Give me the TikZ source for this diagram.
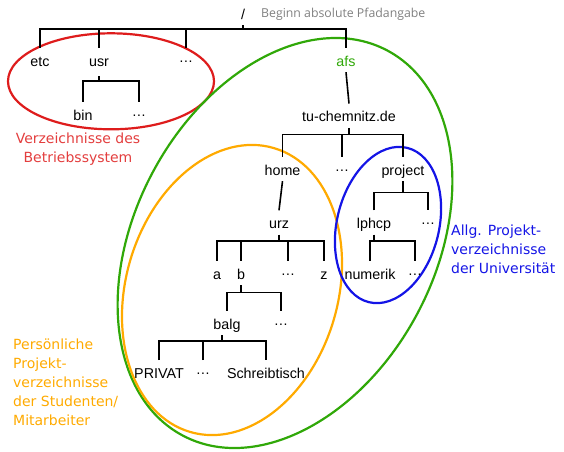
\documentclass[tikz,border=0pt]{standalone}
\usepackage{fontspec}
\setmainfont{Liberation Sans}
\newfontfamily\notefont{DejaVu Sans}
\newfontfamily\hintfont{Open Sans}
\usepackage{tikz}

\definecolor{sysred}{RGB}{222,28,28}
\definecolor{afsgreen}{RGB}{48,168,8}
\definecolor{uniblue}{RGB}{20,20,230}
\definecolor{homeorange}{RGB}{255,170,0}
\definecolor{hintgray}{RGB}{128,128,128}

\newcommand{\moredirs}{\raisebox{4pt}{…}}

\begin{document}
\begin{tikzpicture}[x=1pt,y=-1pt,
  dir/.style={inner sep=0pt,text height=18pt,text depth=6pt,font=\fontsize{14.3}{16}\selectfont},
  note/.style={inner sep=0pt,align=left,font=\notefont\fontsize{14}{18.8}\selectfont},
  tree/.style={line width=1.6pt},
  hull/.style={line width=2.2pt}]
  \useasboundingbox (0,0) rectangle (564,451);

  \draw[hull,sysred] (111,81.3) ellipse [x radius=103, y radius=48];
  \draw[hull,afsgreen,rotate around={-28:(285,243)}] (285,243) ellipse [x radius=150, y radius=218];
  \draw[hull,homeorange,rotate around={-16.5:(232,290)}] (232,290) ellipse [x radius=106, y radius=148];
  \draw[hull,uniblue,rotate around={-14:(388,225)}] (388,225) ellipse [x radius=51, y radius=79.5];

  \node[dir,anchor=base] (root) at (243,19) {/};
  \node[anchor=base west,inner sep=0pt,text=hintgray,font=\hintfont\fontsize{12.3}{14}\selectfont] (hint) at (261,17) {Beginn absolute Pfadangabe};

  \node[dir,anchor=base] (etc) at (40,66) {etc};
  \node[dir,anchor=base] (usr) at (99,66) {usr};
  \node[dir,anchor=base] (rdots) at (186,66) {\moredirs};
  \node[dir,anchor=base,text=afsgreen] (afs) at (346,66) {afs};

  \node[dir,anchor=base] (bin) at (83,120) {bin};
  \node[dir,anchor=base] (udots) at (139,120) {\moredirs};

  \node[dir,anchor=base] (tu) at (349,121.7) {tu-chemnitz.de};

  \node[dir,anchor=base] (home) at (282.5,175) {home};
  \node[dir,anchor=base] (tdots) at (342,175) {\moredirs};
  \node[dir,anchor=base] (project) at (403,175) {project};

  \node[dir,anchor=base] (urz) at (279,228.5) {urz};
  \node[dir,anchor=base] (lphcp) at (374,228.5) {lphcp};
  \node[dir,anchor=base] (pdots) at (428,228.5) {\moredirs};

  \node[dir,anchor=base] (a) at (217,279) {a};
  \node[dir,anchor=base] (b) at (241,279) {b};
  \node[dir,anchor=base] (zdots) at (288,279) {\moredirs};
  \node[dir,anchor=base] (z) at (324,279) {z};
  \node[dir,anchor=base] (numerik) at (370,279) {numerik};
  \node[dir,anchor=base] (ldots) at (415,279) {\moredirs};

  \node[dir,anchor=base] (balg) at (227,329) {balg};
  \node[dir,anchor=base] (bdots) at (281,329) {\moredirs};

  \node[dir,anchor=base] (privat) at (159,378.3) {PRIVAT};
  \node[dir,anchor=base] (gdots) at (203,378.3) {\moredirs};
  \node[dir,anchor=base] (desk) at (266,378.3) {Schreibtisch};

  \coordinate (l0) at (0,29);
  \coordinate (l1) at (0,80.7);
  \coordinate (l2) at (0,134.3);
  \coordinate (l3) at (0,241);
  \coordinate (l4) at (0,192.3);
  \coordinate (l5) at (0,240.7);
  \coordinate (l6) at (0,292.3);
  \coordinate (l7) at (0,340.7);

  \draw[tree] (root.south) -- (root.south |- l0);
  \draw[tree] (etc.north) |- (afs.north |- l0) -- (afs.north);
  \draw[tree] (usr.north) -- (usr.north |- l0);
  \draw[tree] (rdots.north) -- (rdots.north |- l0);

  \draw[tree] ([yshift=-4pt]usr.south) -- (usr.south |- l1);
  \draw[tree] (bin.north) |- (udots.north |- l1) -- (udots.north);

  \draw[tree] (afs.south) -- (tu.north);

  \draw[tree] (tu.south) -- (tu.south |- l2);
  \draw[tree] (home.north) |- (project.north |- l2) -- (project.north);
  \draw[tree] (tdots.north) -- (tdots.north |- l2);

  \draw[tree] (home.south) -- (urz.north);

  \draw[tree] (urz.south) -- (urz.south |- l3);
  \draw[tree] (a.north) |- (z.north |- l3) -- (z.north);
  \draw[tree] (b.north) -- (b.north |- l3);
  \draw[tree] (zdots.north) -- (zdots.north |- l3);

  \draw[tree] (project.south) -- (project.south |- l4);
  \draw[tree] (lphcp.north) |- (pdots.north |- l4) -- (pdots.north);

  \draw[tree] (lphcp.south) -- (lphcp.south |- l5);
  \draw[tree] (numerik.north) |- (ldots.north |- l5) -- (ldots.north);

  \draw[tree] (b.south) -- (b.south |- l6);
  \draw[tree] (balg.north) |- (bdots.north |- l6) -- (bdots.north);

  \draw[tree] ([xshift=-5pt]balg.south) -- ([xshift=-5pt]balg.south |- l7);
  \draw[tree] (privat.north) |- (desk.north |- l7) -- (desk.north);
  \draw[tree] (gdots.north) -- (gdots.north |- l7);

  \node[note,align=center,anchor=north,text=sysred!85!white] (sysnote) at (78,132.5) {Verzeichnisse des\\Betriebssystem};
  \node[note,anchor=north west,text=uniblue] (uninote) at (451,225) {Allg. Projekt-\\verzeichnisse\\der Universität};
  \node[note,anchor=north west,text=homeorange] (homenote) at (13,339) {Persönliche\\Projekt-\\verzeichnisse\\der Studenten/\\Mitarbeiter};
\end{tikzpicture}
\end{document}
